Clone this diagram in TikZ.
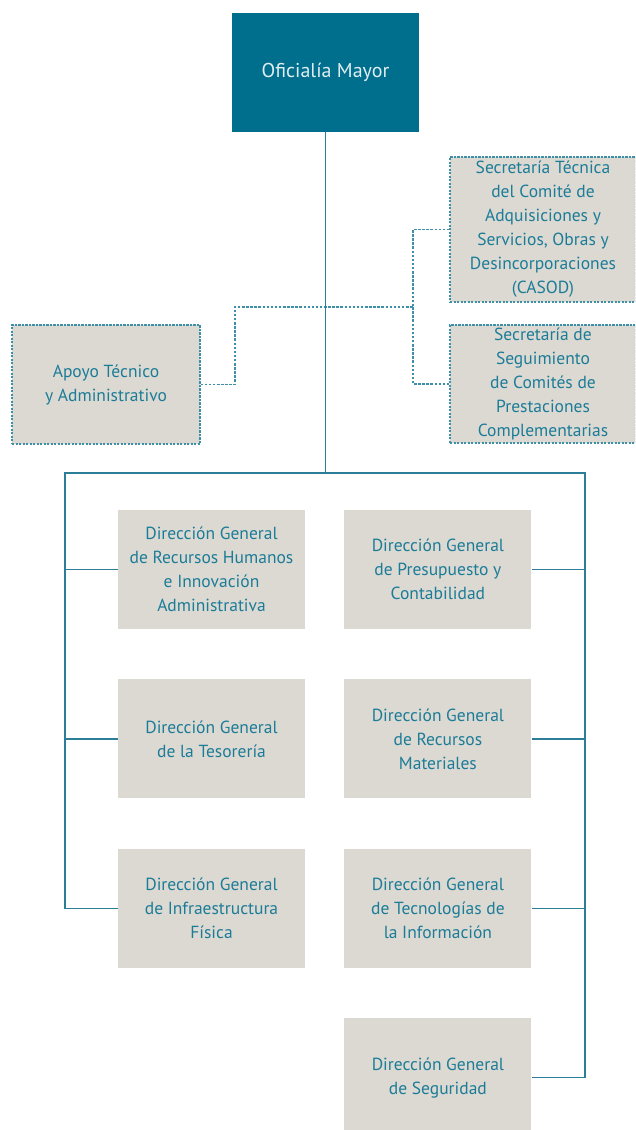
\documentclass[tikz,border=0pt]{standalone}
\usepackage{fontspec}
\setmainfont{PT Sans}
\usetikzlibrary{positioning}
\definecolor{omteal}{HTML}{006F8E}
\definecolor{txteal}{HTML}{1C7C98}
\definecolor{boxgray}{HTML}{DCD9D2}
\definecolor{lineteal}{HTML}{2C7E98}
\definecolor{dotteal}{HTML}{3E8FA8}
\tikzset{
  unit/.style={fill=boxgray, text=txteal, align=center, inner sep=0pt,
    minimum width=187pt, minimum height=119pt, font=\fontsize{17.5}{24}\selectfont},
  staff/.style={unit, draw=dotteal, line width=1.3pt, dash pattern=on 2.2pt off 1.3pt},
  solidline/.style={draw=lineteal, line width=1.3pt},
  dotline/.style={draw=dotteal, line width=1.3pt, dash pattern=on 2.5pt off 1.6pt}
}
\begin{document}
\begin{tikzpicture}[x=1pt, y=-1pt, node distance=50pt and 39pt]
    \useasboundingbox (0,0) rectangle (635,1130);
    \clip (0,0) rectangle (635,1130);
    \node[fill=omteal, text=white!88!omteal, minimum width=187pt, minimum height=119pt, font=\fontsize{20}{24}\selectfont] (om) at (325.5,72.5) {Oficialía Mayor};

    \node[staff, minimum height=145pt, minimum width=186pt] (sectec) at (543,229.5) {Secretaría Técnica\\del Comité de\\Adquisiciones y\\Servicios, Obras y\\Desincorporaciones\\(CASOD)};
    \node[staff, minimum height=118pt, minimum width=186pt] (secseg) at (543,384) {Secretaría de\\Seguimiento\\de Comités de\\Prestaciones\\Complementarias};
    \node[staff, minimum width=188pt] (apoyo) at (106,384.5) {Apoyo Técnico\\y Administrativo};

    \node[unit] (dgrh) at (211.5,569.5) {Dirección General\\de Recursos Humanos\\e Innovación\\Administrativa};
    \node[unit, below=of dgrh] (dgt) {Dirección General\\de la Tesorería};
    \node[unit, below=of dgt] (dgif) {Dirección General\\de Infraestructura\\Física};
    \node[unit, right=of dgrh] (dgpc) {Dirección General\\de Presupuesto y\\Contabilidad};
    \node[unit, below=of dgpc] (dgrm) {Dirección General\\de Recursos\\Materiales};
    \node[unit, below=of dgrm] (dgti) {Dirección General\\de Tecnologías de\\la Información};
    \node[unit, below=of dgti] (dgs) {Dirección General\\de Seguridad};

    % staff lines
    \coordinate (dotL) at (235,307);
    \coordinate (dotR) at (413,307);
    \draw[dotline] (apoyo.east) -| (dotL) -- (dotR);
    \draw[dotline] (sectec.west) -| (dotR);
    \draw[dotline] (secseg.west) -| (dotR);

    % main bus
    \coordinate (busL) at (65,473);
    \coordinate (busR) at (585,473);
    \draw[solidline] (om.south) |- (busL) |- (dgif.west);
    \draw[solidline] (om.south |- busL) -- (busR) |- (dgs.east);
    \draw[solidline] (dgrh.west) -- (dgrh.west -| busL);
    \draw[solidline] (dgt.west) -- (dgt.west -| busL);
    \draw[solidline] (dgpc.east) -- (dgpc.east -| busR);
    \draw[solidline] (dgrm.east) -- (dgrm.east -| busR);
    \draw[solidline] (dgti.east) -- (dgti.east -| busR);
\end{tikzpicture}
\end{document}
